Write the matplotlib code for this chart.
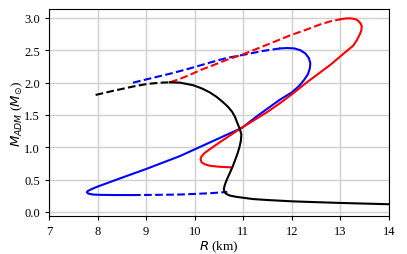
import numpy as np
import matplotlib
matplotlib.use('Agg')
import matplotlib.pyplot as plt

plt.rcParams['font.family'] = ['Liberation Serif', 'DejaVu Serif']
plt.rcParams['mathtext.fontset'] = 'dejavusans'

# black sequence (R in km, M_ADM in solar masses)
black_dash_R = [7.96, 8.3, 8.73, 9.02, 9.29, 9.49]
black_dash_M = [1.81, 1.87, 1.94, 1.98, 2.0, 2.005]
black_R = [9.49, 9.7, 9.97, 10.15, 10.31, 10.45, 10.58, 10.68, 10.77, 10.83, 10.87, 10.93,
           10.96, 10.95, 10.92, 10.88, 10.83, 10.78, 10.72, 10.66, 10.62, 10.60, 10.61,
           10.65, 10.72, 10.85, 11.0, 11.2, 11.5, 12.0, 12.5, 13.0, 13.5, 14.0]
black_M = [2.005, 2.0, 1.96, 1.91, 1.85, 1.78, 1.70, 1.63, 1.55, 1.47, 1.39, 1.28,
           1.20, 1.10, 1.0, 0.90, 0.80, 0.70, 0.60, 0.50, 0.42, 0.36, 0.31,
           0.28, 0.255, 0.235, 0.22, 0.20, 0.185, 0.165, 0.152, 0.14, 0.13, 0.12]

# blue sequence
blue_dash_hi_R = [8.73, 9.0, 9.5, 9.9, 10.31, 10.65, 11.0, 11.4, 11.76]
blue_dash_hi_M = [2.0, 2.05, 2.14, 2.22, 2.31, 2.38, 2.43, 2.49, 2.53]
blue_R = [11.76, 11.9, 12.05, 12.18, 12.28, 12.35, 12.38, 12.37, 12.33, 12.25, 12.15, 12.0,
          11.76, 11.5, 11.28, 10.97, 10.31, 9.7, 9.0, 8.5, 7.99, 7.88, 7.80, 7.78, 7.81,
          7.9, 8.05, 8.36, 8.73]
blue_M = [2.53, 2.535, 2.53, 2.50, 2.45, 2.38, 2.30, 2.22, 2.13, 2.04, 1.95, 1.85,
          1.74, 1.60, 1.48, 1.30, 1.075, 0.866, 0.665, 0.53, 0.39, 0.355, 0.325, 0.305, 0.285,
          0.27, 0.265, 0.262, 0.262]
blue_dash_lo_R = [8.73, 9.2, 9.7, 10.31, 10.67]
blue_dash_lo_M = [0.262, 0.265, 0.27, 0.29, 0.31]

# red sequence
red_dash_R = [9.49, 9.7, 9.9, 10.1, 10.31, 10.65, 11.0, 11.5, 11.96, 12.3, 12.58, 12.8, 13.0]
red_dash_M = [2.005, 2.06, 2.12, 2.19, 2.25, 2.35, 2.44, 2.59, 2.73, 2.82, 2.90, 2.95, 2.98]
red_R = [13.0, 13.1, 13.2, 13.3, 13.36, 13.41, 13.44, 13.43, 13.4, 13.34, 13.26, 13.05,
         12.8, 12.55, 12.3, 12.0, 11.75, 11.48, 11.2, 10.96, 10.7, 10.5, 10.31, 10.2,
         10.14, 10.12, 10.14, 10.2, 10.31, 10.5, 10.75]
red_M = [2.98, 2.992, 2.995, 2.985, 2.96, 2.92, 2.875, 2.81, 2.75, 2.66, 2.57, 2.44,
         2.28, 2.14, 2.0, 1.82, 1.68, 1.54, 1.41, 1.30, 1.17, 1.07, 0.97, 0.91,
         0.86, 0.82, 0.77, 0.74, 0.715, 0.70, 0.69]

fig = plt.figure(figsize=(4.07, 2.55), dpi=100)
ax = fig.add_axes([0.1204, 0.149, 0.8354, 0.812])

lw = 1.5
ax.plot(blue_dash_hi_R, blue_dash_hi_M, '--', color='blue', lw=lw)
ax.plot(blue_R, blue_M, '-', color='blue', lw=lw)
ax.plot(blue_dash_lo_R, blue_dash_lo_M, '--', color='blue', lw=lw)
ax.plot(red_dash_R, red_dash_M, '--', color='red', lw=lw)
ax.plot(red_R, red_M, '-', color='red', lw=lw)
ax.plot(black_dash_R, black_dash_M, '--', color='black', lw=lw)
ax.plot(black_R, black_M, '-', color='black', lw=lw)

ax.set_xlim(7, 14)
ax.set_ylim(-0.062, 3.14)
ax.set_xticks(np.arange(7, 15, 1))
ax.set_yticks(np.arange(0, 3.01, 0.5))
ax.grid(True, color='#d0d0d0', lw=1)
ax.set_axisbelow(True)
ax.tick_params(labelsize=9, length=3, width=0.8)
ax.set_xlabel('$R$ (km)', fontsize=9.5, labelpad=1)
ax.set_ylabel(r'$M_{ADM}$ ($M_{\odot}$)', fontsize=9.5)
ax.yaxis.set_label_coords(-0.07, 0.5)

fig.savefig('out.png', dpi=100)
